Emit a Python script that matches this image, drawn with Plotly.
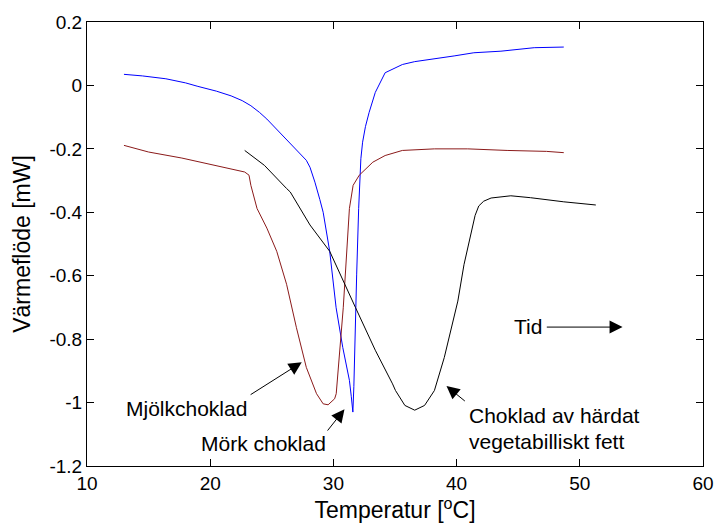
import plotly.graph_objects as go

# DSC curves: heat flow vs temperature for three chocolate types
mork_temp = [13.0, 14.5, 16.4, 18.0, 19.0, 20.5, 21.7, 22.6, 23.3, 24.0, 24.6, 25.3,
             25.96, 26.4, 27.0, 27.8, 28.1, 28.5, 28.9, 29.17, 29.7, 30.22, 30.76, 31.3, 31.45,
             31.58, 31.66, 31.78, 31.89, 32.05, 32.1, 32.23, 32.37, 32.6, 32.9, 33.4,
             34.2, 35.6, 36.6, 37.7, 39.8, 41.4, 43.6, 46.3, 48.7]
mork_flow = [0.035, 0.03, 0.021, 0.008, -0.003, -0.018, -0.033, -0.048, -0.064, -0.085, -0.106, -0.135,
             -0.163, -0.18, -0.205, -0.236, -0.258, -0.305, -0.36, -0.40, -0.523, -0.701, -0.826, -0.93, -0.98,
             -1.03, -0.95, -0.70, -0.595, -0.388, -0.336, -0.231, -0.179, -0.13, -0.085, -0.022,
             0.04, 0.066, 0.075, 0.082, 0.093, 0.103, 0.108, 0.119, 0.121]

mjolk_temp = [13.0, 15.0, 17.7, 20.4, 22.8, 23.15, 23.3, 23.8, 24.6, 25.4, 26.2, 27.0,
              27.8, 28.63, 29.17, 29.57, 30.1, 30.23, 30.37, 30.8, 31.3, 31.6, 32.1, 32.9,
              33.2, 34.2, 35.6, 38.2, 40.9, 44.1, 47.3, 48.7]
mjolk_flow = [-0.189, -0.21, -0.229, -0.252, -0.273, -0.283, -0.315, -0.388, -0.45, -0.523, -0.627, -0.764,
              -0.889, -0.972, -1.004, -1.007, -0.988, -0.972, -0.91, -0.701, -0.388, -0.315, -0.283, -0.252,
              -0.242, -0.221, -0.205, -0.2, -0.2, -0.205, -0.208, -0.212]

veg_temp = [22.8, 24.4, 26.2, 26.5, 28.1, 29.7, 31.8, 33.4, 34.8, 35.04, 35.8, 36.6,
            37.4, 38.2, 39.0, 39.8, 40.1, 40.6, 41.2, 41.5, 41.8, 42.2, 42.8, 44.4, 46.0,
            48.7, 51.3]
veg_flow = [-0.205, -0.252, -0.325, -0.336, -0.44, -0.523, -0.701, -0.835, -0.941, -0.962, -1.009, -1.024,
            -1.009, -0.962, -0.858, -0.732, -0.68, -0.565, -0.461, -0.41, -0.38, -0.365, -0.355, -0.348, -0.354,
            -0.367, -0.377]

x_ticks = [10, 20, 30, 40, 50, 60]
y_ticks = [0.2, 0, -0.2, -0.4, -0.6, -0.8, -1, -1.2]
y_tick_text = ["0.2", "0", "-0.2", "-0.4", "-0.6", "-0.8", "-1", "-1.2"]

FONT = "Liberation Sans, Arial, sans-serif"

fig = go.Figure()
fig.add_trace(go.Scatter(x=mork_temp, y=mork_flow, mode="lines",
                         line=dict(color="#0000ff", width=1), name="Mörk choklad"))
fig.add_trace(go.Scatter(x=mjolk_temp, y=mjolk_flow, mode="lines",
                         line=dict(color="#8b1a1a", width=1), name="Mjölkchoklad"))
fig.add_trace(go.Scatter(x=veg_temp, y=veg_flow, mode="lines",
                         line=dict(color="#000000", width=1), name="Choklad av härdat vegetabilliskt fett"))

# labels with arrows pointing at the curves
arrows = [
    # (head_x, head_y, tail_x, tail_y)
    (27.43, -0.873, 23.16, -0.978),
    (30.9, -1.021, 29.43, -1.093),
    (39.18, -0.948, 40.79, -0.999),
    (53.47, -0.762, 47.2, -0.762),
]
for hx, hy, tx, ty in arrows:
    fig.add_annotation(x=hx, y=hy, ax=tx, ay=ty, xref="x", yref="y", axref="x", ayref="y",
                       showarrow=True, arrowhead=2, arrowsize=2.6, arrowwidth=1,
                       arrowcolor="black", text="")

texts = [
    ("Mjölkchoklad", 18.06, -1.018, "center"),
    ("Mörk choklad", 24.29, -1.128, "center"),
    ("Choklad av härdat", 40.87, -1.04, "left"),
    ("vegetabilliskt fett", 40.87, -1.122, "left"),
    ("Tid", 45.78, -0.76, "center"),
]
for t, x, y, anchor in texts:
    fig.add_annotation(x=x, y=y, xref="x", yref="y", text=t, showarrow=False,
                       xanchor=anchor, yanchor="middle",
                       font=dict(family=FONT, size=21, color="black"))

fig.update_layout(
    width=726, height=527,
    margin=dict(l=87, r=14, t=19, b=61),
    paper_bgcolor="white", plot_bgcolor="white",
    showlegend=False,
    font=dict(family=FONT, size=19, color="black"),
)
fig.update_xaxes(range=[10, 60], tickvals=x_ticks, ticks="inside", ticklen=7, tickcolor="black",
                 showline=True, linecolor="black", linewidth=1, mirror="allticks",
                 showgrid=False, zeroline=False,
                 title=dict(text="Temperatur [<sup>o</sup>C]", standoff=4),
                 tickfont=dict(size=19))
fig.update_yaxes(range=[-1.2, 0.2], tickvals=y_ticks, ticktext=y_tick_text,
                 ticks="inside", ticklen=7, tickcolor="black",
                 showline=True, linecolor="black", linewidth=1, mirror="allticks",
                 showgrid=False, zeroline=False,
                 title=dict(text="Värmeflöde [mW]", standoff=12),
                 tickfont=dict(size=19))

fig.write_html("out.html")
